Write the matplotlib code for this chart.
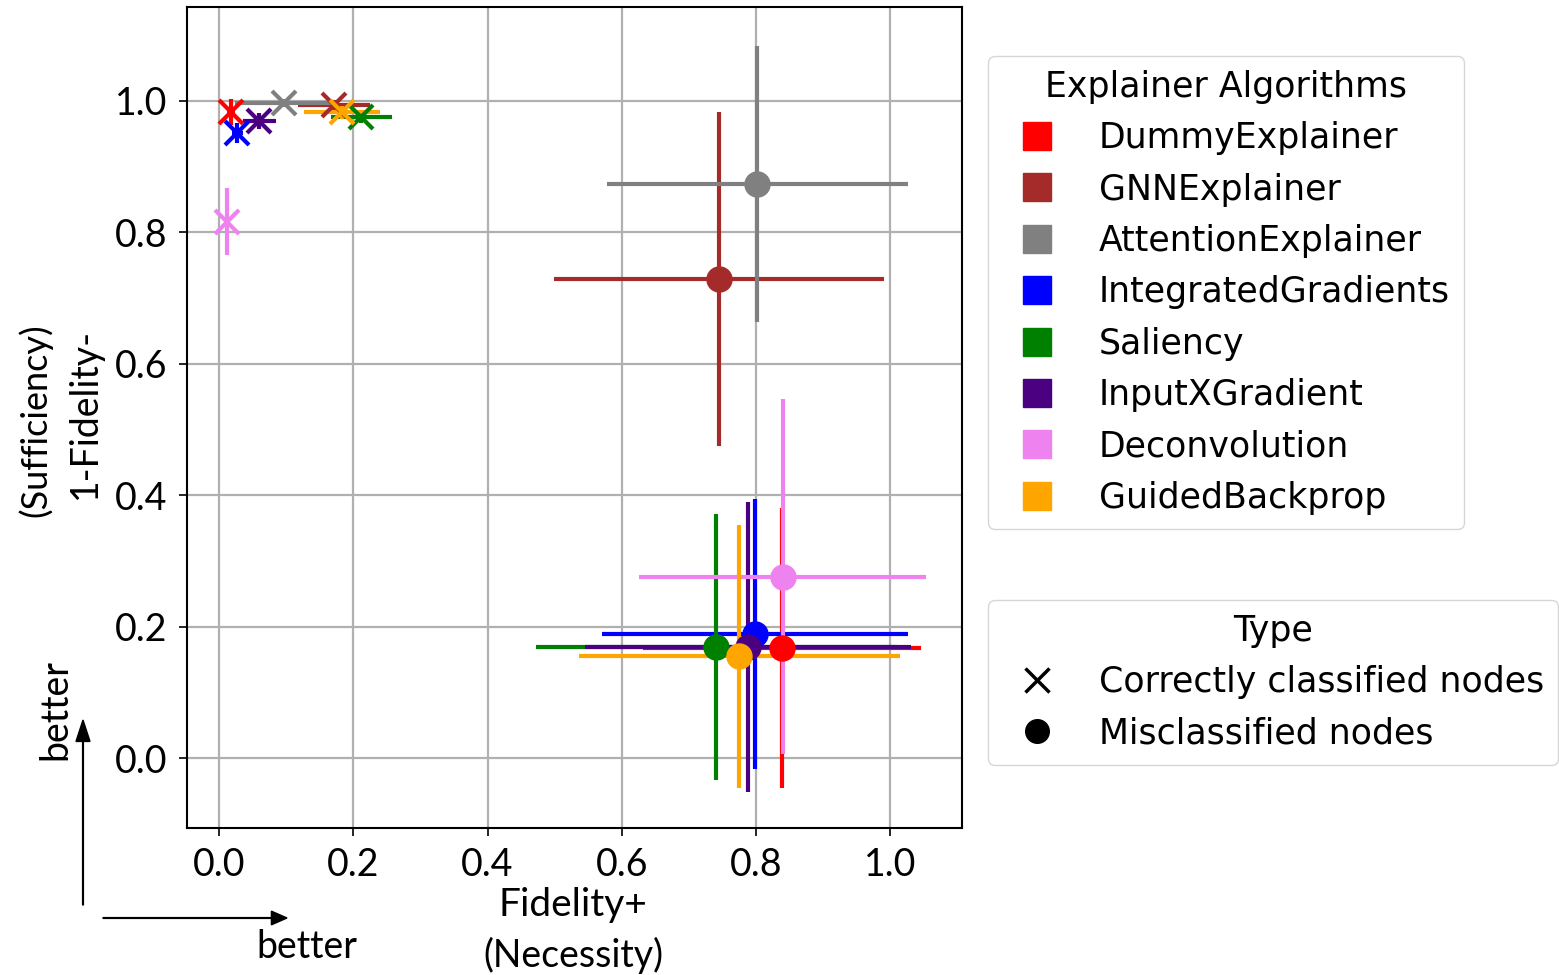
import matplotlib
matplotlib.use("Agg")
import matplotlib.pyplot as plt
from matplotlib.lines import Line2D
from matplotlib.patches import FancyArrow

# explainer algorithms and their colours
explainers = ["DummyExplainer", "GNNExplainer", "AttentionExplainer", "IntegratedGradients",
              "Saliency", "InputXGradient", "Deconvolution", "GuidedBackprop"]
colors = ["red", "brown", "gray", "blue", "green", "indigo", "violet", "orange"]

# correctly classified nodes (fidelity+, 1-fidelity-, errors)
corr_x = [0.018, 0.171, 0.096, 0.027, 0.212, 0.060, 0.012, 0.183]
corr_y = [0.983, 0.994, 0.997, 0.951, 0.976, 0.970, 0.816, 0.983]
corr_xerr = [0.006, 0.054, 0.072, 0.008, 0.045, 0.025, 0.004, 0.057]
corr_yerr = [0.020, 0.008, 0.006, 0.015, 0.010, 0.012, 0.051, 0.010]

# misclassified nodes
mis_x = [0.839, 0.745, 0.802, 0.799, 0.741, 0.788, 0.840, 0.775]
mis_y = [0.167, 0.729, 0.874, 0.189, 0.169, 0.169, 0.276, 0.155]
mis_xerr = [0.207, 0.246, 0.224, 0.228, 0.269, 0.243, 0.214, 0.239]
mis_yerr = [0.213, 0.254, 0.210, 0.205, 0.203, 0.220, 0.270, 0.200]

tick_font = ["Lato", "DejaVu Sans"]
W, H = 1559, 975

fig = plt.figure(figsize=(W / 100, H / 100), dpi=100)
ax = fig.add_axes([187 / W, 1 - 828 / H, (962 - 187) / W, (828 - 7) / H])

for i, c in enumerate(colors):
    ax.errorbar(corr_x[i], corr_y[i], xerr=corr_xerr[i], yerr=corr_yerr[i],
                fmt="x", color=c, ms=17, mew=3, elinewidth=3, zorder=3)
    ax.errorbar(mis_x[i], mis_y[i], xerr=mis_xerr[i], yerr=mis_yerr[i],
                fmt="o", color=c, ms=18, elinewidth=3, zorder=3)

ax.set_xlim(-0.048, 1.107)
ax.set_ylim(-0.1065, 1.143)
ax.set_xticks([0.0, 0.2, 0.4, 0.6, 0.8, 1.0])
ax.set_yticks([0.0, 0.2, 0.4, 0.6, 0.8, 1.0])
ax.grid(True, color="#b0b0b0", linewidth=1.6)
ax.set_axisbelow(True)
ax.tick_params(labelsize=27, length=6, width=1.2, pad=8)
for lab in ax.get_xticklabels() + ax.get_yticklabels():
    lab.set_family(tick_font)
for s in ax.spines.values():
    s.set_linewidth(1.5)

# axis titles
fig.text(573 / W, 1 - 905 / H, "Fidelity+", ha="center", va="center", fontsize=28, family=tick_font)
fig.text(573 / W, 1 - 955 / H, "(Necessity)", ha="center", va="center", fontsize=27, family=tick_font)
fig.text(85 / W, 1 - 413 / H, "1-Fidelity-", ha="center", va="center", rotation=90, fontsize=27, family=tick_font)
fig.text(35 / W, 1 - 420 / H, "(Sufficiency)", ha="center", va="center", rotation=90, fontsize=26, family=tick_font)

# "better" arrows
fig.patches.append(FancyArrow(
    83 / W, 1 - 905 / H, 0, (905 - 720) / H, width=0.0005, head_width=0.009,
    head_length=0.022, color="black", transform=fig.transFigure, length_includes_head=True))
fig.patches.append(FancyArrow(
    103 / W, 1 - 918 / H, (287 - 103) / W, 0, width=0.0008, head_width=0.014,
    head_length=0.010, color="black", transform=fig.transFigure, length_includes_head=True))
fig.text(55 / W, 1 - 710 / H, "better", ha="center", va="center", rotation=90, fontsize=27, family=tick_font)
fig.text(307 / W, 1 - 947 / H, "better", ha="center", va="center", fontsize=27, family=tick_font)

# legends
algo_handles = [Line2D([], [], marker="s", color=c, ls="none", ms=20) for c in colors]
fig.legend(algo_handles, explainers, title="Explainer Algorithms", loc="upper left",
           bbox_to_anchor=(988 / W, 1 - 56 / H), bbox_transform=fig.transFigure,
           borderaxespad=0, fontsize=25, title_fontsize=25, labelspacing=0.5)
type_handles = [Line2D([], [], marker="x", color="black", ls="none", ms=17, mew=2.5),
                Line2D([], [], marker="o", color="black", ls="none", ms=17)]
fig.legend(type_handles, ["Correctly classified nodes", "Misclassified nodes"], title="Type",
           loc="upper left", bbox_to_anchor=(988 / W, 1 - 600 / H),
           bbox_transform=fig.transFigure, borderaxespad=0, fontsize=25,
           title_fontsize=25, labelspacing=0.5)

fig.savefig("out.png", dpi=100)
